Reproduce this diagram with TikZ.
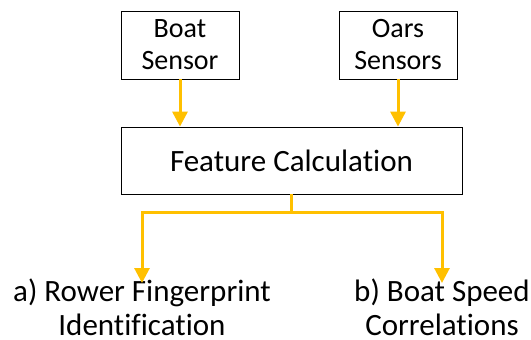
\documentclass[tikz,border=0pt]{standalone}
\usepackage{fontspec}
\setmainfont[Ligatures=NoCommon]{Carlito}
\usetikzlibrary{arrows.meta}
\definecolor{gold}{HTML}{FFC000}

\begin{document}
\begin{tikzpicture}[
                x = 1pt, y = -1pt,
                sensor/.style = {draw, thick, minimum width = 118pt, minimum height = 68pt, align = center, font = \fontsize{28}{32}\selectfont, inner sep = 0pt},
                calc/.style = {draw, thick, minimum width = 341pt, minimum height = 67pt, font = \fontsize{31}{36}\selectfont, inner sep = 0pt},
                result/.style = {align = center, font = \fontsize{31}{34}\selectfont, inner sep = 0pt, text depth = 0pt, anchor = north},
                arr/.style = {draw = gold, line width = 3pt, -{Triangle[width = 15pt, length = 15pt]}},
            ]
            \useasboundingbox (0,0) rectangle (531,340);

            \node (boat) [sensor] at (180,45) {Boat\\Sensor};
            \node (oars) [sensor] at (398,45) {Oars\\Sensors};
            \node (feat) [calc] at (291.5,160.5) {Feature Calculation};

            \node (rower) [result] at (142,279) {a) Rower Fingerprint\\Identification};
            \node (speed) [result] at (442,279) {b) Boat Speed\\Correlations};

            \coordinate (split) at (291,212);

            \path[arr] (boat) -- (boat |- feat.north);
            \path[arr] (oars) -- (oars |- feat.north);
            \path[arr, -] (feat.south -| split) -- (split);
            \path[arr] (split) -| ([yshift=-4pt]rower.north);
            \path[arr] (split) -| ([yshift=-4pt]speed.north);
        \end{tikzpicture}
\end{document}
